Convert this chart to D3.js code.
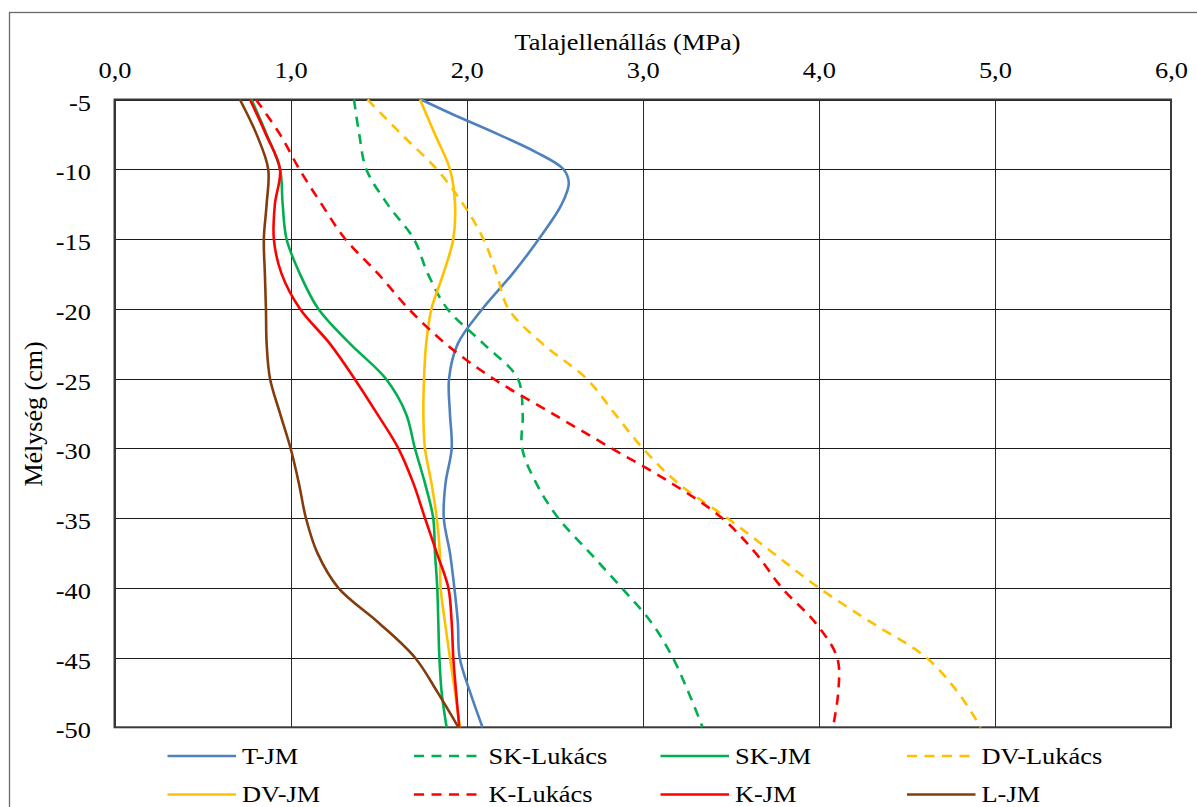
<!DOCTYPE html>
<html>
<head>
<meta charset="utf-8">
<script src="https://cdn.jsdelivr.net/npm/d3@7"></script>
<style>
  html, body { margin: 0; padding: 0; background: #fff; }
  svg { display: block; }
</style>
</head>
<body>
<svg id="chart" width="1197" height="807"></svg>
<script>
// ---- Data ----
const xTicks = [0, 1, 2, 3, 4, 5, 6];
const yTicks = [-5, -10, -15, -20, -25, -30, -35, -40, -45, -50];
const depths = [-5, -7.5, -10, -12.5, -15, -17.5, -20, -22.5, -25, -27.5, -30, -32.5, -35, -37.5, -40, -42.5, -45, -47.5, -50];
const tJmDepths = [-5, -6, -7.5, -8.75, -10, -11, -12.5, -15, -17.5, -20, -22.5, -25, -27.5, -30, -32.5, -35, -37.5, -40, -42.5, -45, -47.5, -50];
const tJm = [1.74, 1.91, 2.18, 2.39, 2.55, 2.58, 2.54, 2.41, 2.26, 2.09, 1.95, 1.90, 1.905, 1.915, 1.88, 1.87, 1.905, 1.93, 1.95, 1.96, 2.02, 2.09];
const skLukacs = [1.36, 1.39, 1.43, 1.55, 1.70, 1.78, 1.89, 2.095, 2.29, 2.318, 2.315, 2.395, 2.52, 2.70, 2.88, 3.05, 3.17, 3.26, 3.34];
const skJm = [0.778, 0.864, 0.94, 0.955, 0.977, 1.053, 1.157, 1.337, 1.54, 1.655, 1.706, 1.763, 1.81, 1.82, 1.833, 1.839, 1.845, 1.858, 1.886];
const dvLukacs = [1.437, 1.63, 1.83, 1.98, 2.095, 2.17, 2.237, 2.43, 2.68, 2.84, 3.0, 3.20, 3.48, 3.74, 4.0, 4.30, 4.61, 4.79, 4.92];
const dvJm = [1.735, 1.82, 1.905, 1.934, 1.924, 1.867, 1.80, 1.77, 1.758, 1.754, 1.763, 1.80, 1.83, 1.848, 1.852, 1.877, 1.905, 1.934, 1.962];
const kLukacs = [0.803, 0.94, 1.05, 1.176, 1.31, 1.498, 1.67, 1.88, 2.15, 2.485, 2.823, 3.163, 3.45, 3.64, 3.79, 3.98, 4.104, 4.11, 4.08];
const kJm = [0.769, 0.86, 0.94, 0.911, 0.905, 0.949, 1.053, 1.223, 1.362, 1.49, 1.612, 1.697, 1.763, 1.83, 1.896, 1.915, 1.924, 1.94, 1.958];
const lJm = [0.712, 0.807, 0.873, 0.864, 0.848, 0.854, 0.86, 0.864, 0.883, 0.94, 1.0, 1.047, 1.087, 1.152, 1.271, 1.50, 1.706, 1.835, 1.953];
const seriesNames = ["T-JM", "SK-Lukács", "SK-JM", "DV-Lukács", "DV-JM", "K-Lukács", "K-JM", "L-JM"];
const seriesColors = ["#4F81BD", "#00B050", "#00B050", "#FFC000", "#FFC000", "#FF0000", "#FF0000", "#843C0C"];
const seriesDashed = [false, true, false, true, false, true, false, false];
const seriesValues = [tJm, skLukacs, skJm, dvLukacs, dvJm, kLukacs, kJm, lJm];
const seriesDepths = [tJmDepths, depths, depths, depths, depths, depths, depths, depths];

// ---- Layout ----
const svg = d3.select("#chart");
const plot = { left: 114.5, right: 1171, top: 99.5, bottom: 727.3 };
const FONT = 24;
const FAMILY = "Liberation Serif";
const STRETCH = "scale(1.1,1)";

const x = d3.scaleLinear().domain([0, 6]).range([plot.left, plot.right]);
const y = d3.scaleLinear().domain([-5, -50]).range([plot.top, plot.bottom]);

function styleText(sel, size) {
  return sel.attr("font-family", FAMILY).attr("font-size", size || FONT)
    .style("font-family", FAMILY).attr("fill", "#000");
}

svg.append("rect")
  .attr("x", 9.5).attr("y", 12.5)
  .attr("width", 1300).attr("height", 900)
  .attr("fill", "#fff").attr("stroke", "#6a6a6a").attr("stroke-width", 1.3);

const grid = svg.append("g");
grid.selectAll("line.v").data(xTicks).join("line")
  .attr("x1", d => Math.round(x(d)) + 0.5).attr("x2", d => Math.round(x(d)) + 0.5)
  .attr("y1", plot.top).attr("y2", plot.bottom)
  .attr("stroke", "#2a2a2a").attr("stroke-width", 1);
grid.selectAll("line.h").data(yTicks).join("line")
  .attr("y1", d => Math.round(y(d)) + 0.5).attr("y2", d => Math.round(y(d)) + 0.5)
  .attr("x1", plot.left).attr("x2", plot.right)
  .attr("stroke", "#1a1a1a").attr("stroke-width", 1);

svg.append("rect")
  .attr("x", plot.left).attr("y", plot.top)
  .attr("width", plot.right - plot.left).attr("height", plot.bottom - plot.top)
  .attr("fill", "none").attr("stroke", "#3a3a3a").attr("stroke-width", 2);

const xAxis = d3.axisTop(x).tickValues(xTicks)
  .tickFormat(d => d3.format(".1f")(d).replace(".", ","))
  .tickSize(0).tickPadding(0);
const gx = svg.append("g").attr("transform", "translate(0, 77.5)").call(xAxis);
gx.attr("font-family", FAMILY).attr("font-size", FONT);
gx.select(".domain").remove();
styleText(gx.selectAll("text")).attr("y", 0).attr("dy", 0).attr("transform", STRETCH);

const yAxis = d3.axisLeft(y).tickValues(yTicks)
  .tickFormat(d => String(d))
  .tickSize(0).tickPadding(0);
const gy = svg.append("g").attr("transform", "translate(91, 0)").call(yAxis);
gy.attr("font-family", FAMILY).attr("font-size", FONT);
gy.select(".domain").remove();
styleText(gy.selectAll("text")).attr("x", 0).attr("dy", 0).attr("y", 10.5).attr("transform", STRETCH);

styleText(svg.append("text"))
  .attr("transform", `translate(627.5, 50) ${STRETCH}`)
  .attr("text-anchor", "middle")
  .text("Talajellenállás (MPa)");
styleText(svg.append("text"), 26)
  .attr("transform", "translate(42, 414) rotate(-90)")
  .attr("text-anchor", "middle")
  .text("Mélység (cm)");

svg.append("clipPath").attr("id", "clip").append("rect")
  .attr("x", plot.left).attr("y", plot.top - 2)
  .attr("width", plot.right - plot.left).attr("height", plot.bottom - plot.top + 4);

const line = d3.line()
  .x(d => x(d.v))
  .y(d => y(d.d))
  .curve(d3.curveCatmullRom.alpha(0.5));

const linesG = svg.append("g").attr("clip-path", "url(#clip)");
seriesNames.forEach((name, i) => {
  const pts = seriesValues[i].map((v, k) => ({ v, d: seriesDepths[i][k] }));
  linesG.append("path")
    .datum(pts)
    .attr("d", line)
    .attr("fill", "none")
    .attr("stroke", seriesColors[i])
    .attr("stroke-width", 2.6)
    .attr("stroke-linejoin", "round")
    .attr("stroke-dasharray", seriesDashed[i] ? "10,7.5" : null);
});

const legendColX = [167.5, 414, 660.5, 907];
const legendRowY = [756, 794.5];
const legendTextY = [764, 802];
const legend = svg.append("g");
seriesNames.forEach((name, i) => {
  const cx = legendColX[i % 4];
  const row = Math.floor(i / 4);
  const cy = legendRowY[row];
  legend.append("line")
    .attr("x1", cx).attr("x2", cx + 68.5)
    .attr("y1", cy).attr("y2", cy)
    .attr("stroke", seriesColors[i])
    .attr("stroke-width", 2.6)
    .attr("stroke-dasharray", seriesDashed[i] ? "10,7.5" : null);
  styleText(legend.append("text"))
    .attr("transform", `translate(${cx + 74.5}, ${legendTextY[row]}) ${STRETCH}`)
    .text(name);
});
</script>
</body>
</html>
